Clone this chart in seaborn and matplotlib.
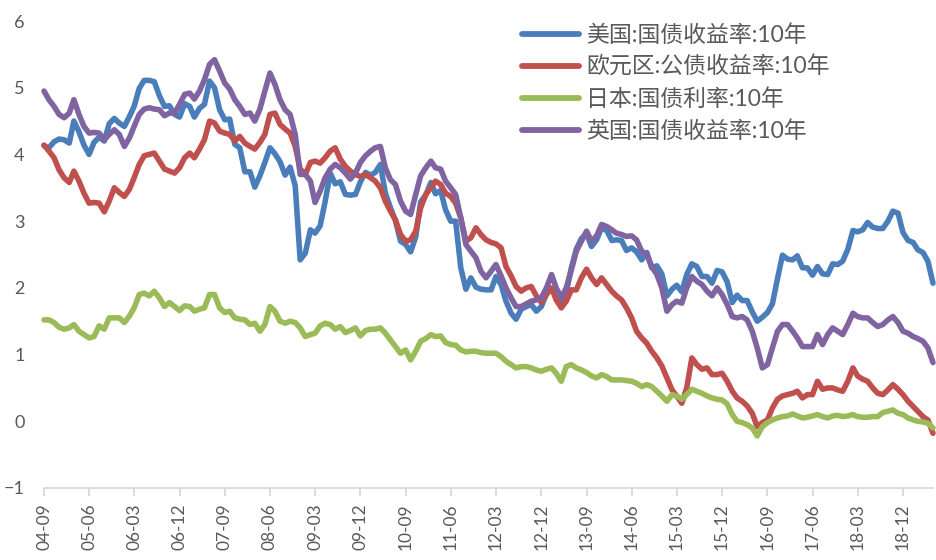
import pandas as pd
import matplotlib.pyplot as plt
import seaborn as sns

# monthly, 2004-09 .. 2019-06
START, N_MONTHS = '2004-09', 178

us = [
    4.13, 4.10, 4.19, 4.23,
    4.22, 4.17, 4.50, 4.34, 4.14, 4.00, 4.18, 4.26, 4.20, 4.46, 4.54, 4.47,
    4.42, 4.57, 4.72, 4.99, 5.11, 5.11, 5.09, 4.88, 4.72, 4.73, 4.60, 4.56,
    4.76, 4.72, 4.56, 4.69, 4.75, 5.10, 5.00, 4.67, 4.52, 4.53, 4.15, 4.10,
    3.74, 3.74, 3.51, 3.68, 3.88, 4.10, 4.01, 3.89, 3.69, 3.81, 3.53, 2.42,
    2.52, 2.87, 2.82, 2.93, 3.29, 3.72, 3.56, 3.59, 3.40, 3.39, 3.40, 3.59,
    3.73, 3.69, 3.73, 3.85, 3.42, 3.20, 3.01, 2.70, 2.65, 2.54, 2.76, 3.29,
    3.39, 3.58, 3.41, 3.46, 3.17, 3.00, 3.00, 2.30, 1.98, 2.15, 2.01, 1.98,
    1.97, 1.97, 2.17, 2.05, 1.80, 1.62, 1.53, 1.68, 1.72, 1.75, 1.65, 1.72,
    1.91, 1.98, 1.96, 1.76, 1.93, 2.30, 2.58, 2.74, 2.81, 2.62, 2.72, 2.90,
    2.86, 2.71, 2.72, 2.71, 2.56, 2.60, 2.54, 2.42, 2.53, 2.30, 2.33, 2.21,
    1.88, 1.98, 2.04, 1.94, 2.20, 2.36, 2.32, 2.17, 2.17, 2.07, 2.26, 2.24,
    2.09, 1.78, 1.89, 1.81, 1.81, 1.64, 1.50, 1.56, 1.63, 1.76, 2.14, 2.49,
    2.43, 2.42, 2.48, 2.30, 2.30, 2.19, 2.32, 2.21, 2.20, 2.36, 2.35, 2.40,
    2.58, 2.86, 2.84, 2.87, 2.98, 2.91, 2.89, 2.89, 3.00, 3.15, 3.12, 2.83,
    2.71, 2.68, 2.57, 2.53, 2.40, 2.07,
]

euro = [
    4.14, 4.05, 3.95, 3.77,
    3.65, 3.58, 3.75, 3.60, 3.42, 3.27, 3.28, 3.27, 3.14, 3.30, 3.50, 3.43,
    3.37, 3.48, 3.65, 3.85, 3.98, 4.00, 4.02, 3.90, 3.78, 3.75, 3.72, 3.80,
    3.95, 4.02, 3.95, 4.08, 4.22, 4.50, 4.47, 4.35, 4.32, 4.30, 4.20, 4.27,
    4.17, 4.12, 4.08, 4.18, 4.30, 4.60, 4.62, 4.45, 4.38, 4.32, 4.12, 3.78,
    3.70, 3.88, 3.90, 3.87, 3.95, 4.05, 4.10, 3.93, 3.82, 3.75, 3.70, 3.67,
    3.70, 3.65, 3.60, 3.50, 3.30, 3.15, 3.02, 2.80, 2.70, 2.72, 2.85, 3.20,
    3.40, 3.50, 3.60, 3.55, 3.42, 3.37, 3.27, 3.05, 2.70, 2.75, 2.90, 2.80,
    2.72, 2.68, 2.66, 2.60, 2.32, 2.18, 2.02, 1.95, 2.00, 2.02, 1.88, 1.78,
    1.90, 2.00, 1.82, 1.70, 1.80, 1.97, 1.97, 2.15, 2.28, 2.15, 2.05, 2.15,
    2.05, 1.95, 1.88, 1.82, 1.70, 1.55, 1.35, 1.25, 1.17, 1.05, 0.95, 0.83,
    0.65, 0.47, 0.38, 0.27, 0.50, 0.95, 0.85, 0.78, 0.80, 0.70, 0.70, 0.72,
    0.60, 0.45, 0.35, 0.30, 0.23, 0.12, -0.08, -0.02, 0.02, 0.20, 0.33, 0.38,
    0.40, 0.42, 0.45, 0.35, 0.40, 0.40, 0.60, 0.48, 0.50, 0.50, 0.47, 0.45,
    0.60, 0.80, 0.68, 0.63, 0.60, 0.50, 0.42, 0.40, 0.47, 0.55, 0.48, 0.40,
    0.30, 0.22, 0.15, 0.07, 0.02, -0.18,
]

japan = [
    1.52, 1.52, 1.48, 1.41,
    1.38, 1.40, 1.45, 1.35, 1.30, 1.25, 1.27, 1.43, 1.38, 1.55, 1.55, 1.55,
    1.48, 1.58, 1.70, 1.90, 1.92, 1.88, 1.95, 1.85, 1.72, 1.78, 1.72, 1.66,
    1.73, 1.72, 1.65, 1.68, 1.70, 1.90, 1.90, 1.70, 1.63, 1.65, 1.55, 1.53,
    1.52, 1.45, 1.47, 1.35, 1.45, 1.72, 1.65, 1.50, 1.47, 1.50, 1.48, 1.40,
    1.27, 1.30, 1.32, 1.43, 1.47, 1.45, 1.38, 1.42, 1.33, 1.36, 1.40, 1.28,
    1.36, 1.38, 1.38, 1.40, 1.32, 1.22, 1.12, 1.02, 1.07, 0.92, 1.05, 1.20,
    1.24, 1.30, 1.27, 1.28, 1.18, 1.15, 1.14, 1.07, 1.04, 1.05, 1.05, 1.03,
    1.02, 1.02, 1.02, 0.97, 0.90, 0.85, 0.80, 0.82, 0.82, 0.80, 0.77, 0.75,
    0.78, 0.80, 0.72, 0.60, 0.82, 0.85, 0.80, 0.77, 0.73, 0.68, 0.65, 0.70,
    0.67, 0.62, 0.62, 0.62, 0.61, 0.60, 0.57, 0.52, 0.55, 0.52, 0.45, 0.38,
    0.30, 0.40, 0.38, 0.33, 0.40, 0.48, 0.45, 0.42, 0.38, 0.35, 0.33, 0.32,
    0.26, 0.10, 0.00, -0.02, -0.05, -0.10, -0.22, -0.08, -0.02, 0.02, 0.05, 0.07,
    0.08, 0.11, 0.08, 0.05, 0.06, 0.08, 0.10, 0.07, 0.05, 0.08, 0.09, 0.07,
    0.08, 0.10, 0.07, 0.06, 0.06, 0.07, 0.07, 0.13, 0.15, 0.17, 0.12, 0.10,
    0.05, 0.02, 0.00, -0.01, -0.03, -0.10,
]

uk = [
    4.95, 4.82, 4.72, 4.60,
    4.55, 4.62, 4.82, 4.60, 4.42, 4.32, 4.33, 4.32, 4.22, 4.30, 4.37, 4.30,
    4.12, 4.25, 4.42, 4.60, 4.68, 4.70, 4.68, 4.67, 4.58, 4.62, 4.62, 4.75,
    4.90, 4.92, 4.83, 4.95, 5.12, 5.35, 5.42, 5.25, 5.07, 4.98, 4.82, 4.72,
    4.60, 4.62, 4.50, 4.68, 4.95, 5.22, 5.05, 4.82, 4.67, 4.60, 4.30, 3.70,
    3.70, 3.60, 3.28, 3.45, 3.65, 3.78, 3.85, 3.80, 3.72, 3.63, 3.72, 3.88,
    3.98, 4.05, 4.10, 4.12, 3.80, 3.62, 3.55, 3.30, 3.15, 3.10, 3.40, 3.68,
    3.80, 3.90, 3.80, 3.78, 3.60, 3.50, 3.40, 3.05, 2.65, 2.55, 2.45, 2.25,
    2.15, 2.25, 2.35, 2.18, 2.00, 1.85, 1.72, 1.72, 1.76, 1.80, 1.82, 1.85,
    2.00, 2.20, 2.00, 1.85, 2.00, 2.27, 2.55, 2.70, 2.85, 2.70, 2.78, 2.95,
    2.92, 2.87, 2.82, 2.80, 2.77, 2.78, 2.72, 2.55, 2.50, 2.32, 2.20, 2.00,
    1.65, 1.75, 1.80, 1.77, 2.00, 2.17, 2.10, 2.05, 1.95, 1.88, 2.00, 1.90,
    1.75, 1.57, 1.55, 1.57, 1.52, 1.35, 1.10, 0.80, 0.85, 1.10, 1.35, 1.45,
    1.45, 1.35, 1.25, 1.12, 1.12, 1.12, 1.30, 1.15, 1.30, 1.40, 1.35, 1.30,
    1.45, 1.62, 1.57, 1.55, 1.55, 1.48, 1.42, 1.45, 1.52, 1.57, 1.48, 1.35,
    1.32, 1.27, 1.24, 1.20, 1.10, 0.88,
]

labels = ['美国:国债收益率:10年', '欧元区:公债收益率:10年',
          '日本:国债利率:10年', '英国:国债收益率:10年']
colors = ['#4a7ebb', '#c0504d', '#9bbb59', '#8064a2']

dates = pd.date_range(START, periods=N_MONTHS, freq='MS')
df = pd.DataFrame({'date': dates, labels[0]: us, labels[1]: euro,
                   labels[2]: japan, labels[3]: uk})
long = df.melt(id_vars='date', var_name='series', value_name='yield')

sns.set_theme(style='white')
plt.rcParams['font.family'] = ['Lato', 'Noto Sans CJK SC', 'DejaVu Sans']
GREY = '#595959'

fig = plt.figure(figsize=(9.36, 5.6), dpi=100)
ax = fig.add_axes([44 / 936, 1 - 488 / 560, 889 / 936, 467 / 560])

sns.lineplot(data=long, x='date', y='yield', hue='series', hue_order=labels,
             palette=colors, linewidth=4.0, ax=ax)
for ln in ax.get_lines():
    ln.set_solid_joinstyle('round')
    ln.set_solid_capstyle('round')
    ln.set_clip_on(False)

ax.set_xlim(dates[0], dates[-1])
ax.set_ylim(-1, 6)
ax.set_yticks(range(-1, 7))
ax.set_xticks(dates[::9])
ax.set_xticklabels([d.strftime('%y-%m') for d in dates[::9]], rotation=90)
ax.set_xlabel('')
ax.set_ylabel('')

for s in ['top', 'right', 'left']:
    ax.spines[s].set_visible(False)
ax.spines['bottom'].set_color('#d9d9d9')
ax.spines['bottom'].set_linewidth(1.3)
ax.tick_params(axis='x', direction='out', length=6, width=1.3, color='#d9d9d9',
               pad=5, labelsize=12.5, labelcolor=GREY, bottom=True)
ax.tick_params(axis='y', length=0, pad=14, labelsize=13, labelcolor=GREY)

leg = ax.legend(loc='upper left', bbox_to_anchor=(522 / 936, 1 - 24 / 560),
                bbox_transform=fig.transFigure, frameon=False,
                prop={'size': 16.5, 'family': ['Lato', 'Noto Sans CJK SC']},
                handlelength=2.5, handletextpad=0.3, labelspacing=0.45,
                borderpad=0, borderaxespad=0)
for t in leg.get_texts():
    t.set_color(GREY)
for h in leg.get_lines():
    h.set_linewidth(4.2)
    h.set_solid_capstyle('round')

fig.savefig('out.png', dpi=100)
